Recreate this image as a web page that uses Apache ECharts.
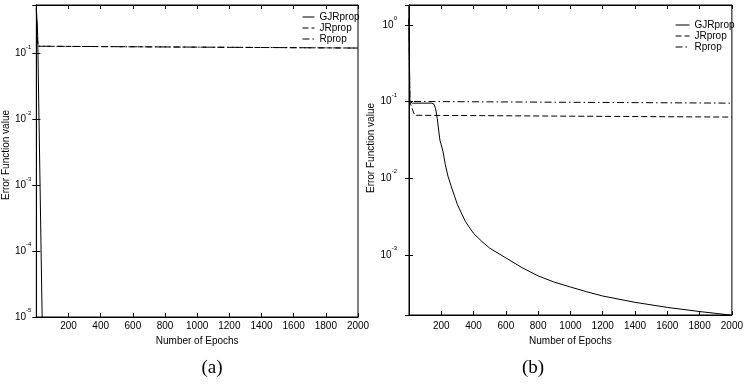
<!DOCTYPE html>
<html>
<head>
    <meta charset="utf-8">
    <title>Error function vs epochs</title>
    <script src="https://cdn.jsdelivr.net/npm/echarts@6/dist/echarts.min.js"></script>
    <style>
        body { margin: 0; background: #fff; }
        #chart { width: 746px; height: 384px; }
    </style>
</head>
<body>
    <div id="chart"></div>

    <script type="text/javascript">
        // ---- panel (a) ----
        var aGjrEpochs = [0, 3, 8, 36, 40];
        var aGjrValues = [0.5, 0.35, 0.2, 0.00001, 0.000004];
        var aJrEpochs = [0, 5, 10, 15, 2000];
        var aJrValues = [0.45, 0.2, 0.13, 0.122, 0.122];
        var aRpEpochs = [0, 4, 8, 12, 16, 2000];
        var aRpValues = [0.5, 0.25, 0.15, 0.13, 0.122, 0.122];

        // ---- panel (b) ----
        var bGjrEpochs = [0, 5, 20, 140, 155, 165, 175, 185, 192, 200, 211, 225, 242, 260, 300, 350, 400, 450, 500, 600, 700, 800, 900, 1000, 1100, 1200, 1400, 1600, 1800, 2000];
        var bGjrValues = [1.8, 0.1, 0.095, 0.095, 0.092, 0.08, 0.06, 0.04, 0.031, 0.027, 0.022, 0.015, 0.0105, 0.008, 0.0045, 0.0027, 0.0019, 0.0015, 0.00122, 0.00091, 0.00068, 0.00053, 0.00044, 0.00038, 0.00033, 0.00029, 0.00024, 0.000206, 0.000182, 0.000163];
        var bJrEpochs = [0, 5, 15, 25, 35, 45, 2000];
        var bJrValues = [1.2, 0.1, 0.085, 0.075, 0.066, 0.063, 0.0625];
        var bRpEpochs = [0, 5, 10, 2000];
        var bRpValues = [1.2, 0.1, 0.095, 0.095];

        var names = ['GJRprop', 'JRprop', 'Rprop'];

        function pairs(xs, ys) {
            var out = [];
            for (var i = 0; i < xs.length; i++) out.push([xs[i], ys[i]]);
            return out;
        }

        function powLabel(v) {
            var l = Math.log(v) / Math.LN10;
            var e = Math.round(l);
            if (Math.abs(l - e) > 1e-6) return '';
            return '{b|10}{s|' + e + '}';
        }

        var font = 'Liberation Sans';
        var lblRich = {
            b: { fontSize: 10, fontFamily: font, color: '#000' },
            s: { fontSize: 6, fontFamily: font, color: '#000', padding: [0, 0, 13, 0] }
        };

        function xAxisPair(grid, nameGap, margin) {
            return [{
                type: 'value', gridIndex: grid, min: 0, max: 2000, interval: 200,
                name: 'Number of Epochs', nameLocation: 'middle', nameGap: nameGap,
                nameTextStyle: { fontSize: 10, fontFamily: font, color: '#000' },
                axisLine: { lineStyle: { color: '#000', width: 1 } },
                axisTick: { inside: true, length: 4, lineStyle: { color: '#000' } },
                axisLabel: {
                    margin: margin, fontSize: 10, fontFamily: font, color: '#000',
                    formatter: function (v) { return v === 0 ? '' : String(v); }
                },
                splitLine: { show: false }
            }, {
                type: 'value', gridIndex: grid, position: 'top', min: 0, max: 2000, interval: 200,
                axisLine: { lineStyle: { color: '#000', width: 1 } },
                axisTick: { inside: true, length: 4, lineStyle: { color: '#000' } },
                axisLabel: { show: false },
                splitLine: { show: false }
            }];
        }

        function yAxisPair(grid, min, max, nameGap, margin, shift) {
            return [{
                type: 'log', logBase: 10, gridIndex: grid, min: min, max: max,
                name: 'Error Function value', nameLocation: 'middle', nameGap: nameGap,
                nameTextStyle: { fontSize: 10, fontFamily: font, color: '#000', padding: [0, 0, 0, shift] },
                axisLine: { lineStyle: { color: '#000', width: 1 } },
                axisTick: { inside: true, length: 4, lineStyle: { color: '#000' } },
                axisLabel: { margin: margin, formatter: powLabel, rich: lblRich },
                splitLine: { show: false }
            }, {
                type: 'log', logBase: 10, gridIndex: grid, position: 'right', min: min, max: max,
                axisLine: { lineStyle: { color: '#000', width: 1 } },
                axisTick: { inside: true, length: 4, lineStyle: { color: '#000' } },
                axisLabel: { show: false },
                splitLine: { show: false }
            }];
        }

        function lineSeries(name, xi, yi, data, dash) {
            return {
                name: name, type: 'line', xAxisIndex: xi, yAxisIndex: yi,
                data: data, symbol: 'none', animation: false,
                lineStyle: { color: '#000', width: 1, type: dash },
                itemStyle: { color: '#000' }
            };
        }

        var solid = 'solid', dashed = [6, 3], dashDot = [7, 3, 1.5, 3];

        function legendAt(left, top, iconW) {
            return {
                data: names, orient: 'vertical', left: left, top: top,
                itemWidth: iconW, itemHeight: 10, itemGap: 1, padding: 0,
                itemStyle: { opacity: 0 },
                lineStyle: { width: 1 },
                textStyle: { fontSize: 10, fontFamily: font, color: '#000' }
            };
        }

        var myChart = echarts.init(document.getElementById('chart'));
        var option = {
            backgroundColor: '#fff',
            animation: false,
            grid: [
                { left: 32, top: 5, width: 326, height: 312, show: true, borderColor: '#000', borderWidth: 1 },
                { left: 409, top: 5, width: 323, height: 310, show: true, borderColor: '#000', borderWidth: 1 }
            ],
            legend: [legendAt(302, 12, 12), legendAt(675, 20, 14)],
            xAxis: xAxisPair(0, 17, 4).concat(xAxisPair(1, 19, 6)),
            yAxis: yAxisPair(0, 0.00001, 0.55, 22, 5, 12).concat(yAxisPair(1, 0.000164, 1.81, 23, 12, 24)),
            series: [
                lineSeries('GJRprop', 0, 0, pairs(aGjrEpochs, aGjrValues), solid),
                lineSeries('JRprop', 0, 0, pairs(aJrEpochs, aJrValues), dashed),
                lineSeries('Rprop', 0, 0, pairs(aRpEpochs, aRpValues), dashDot),
                lineSeries('GJRprop', 2, 2, pairs(bGjrEpochs, bGjrValues), solid),
                lineSeries('JRprop', 2, 2, pairs(bJrEpochs, bJrValues), dashed),
                lineSeries('Rprop', 2, 2, pairs(bRpEpochs, bRpValues), dashDot)
            ],
            graphic: [
                { type: 'text', x: 212, y: 368, style: { text: '(a)', fontSize: 19, fontFamily: 'Liberation Serif', fill: '#000', align: 'center', verticalAlign: 'middle', textAlign: 'center', textVerticalAlign: 'middle' } },
                { type: 'text', x: 533, y: 368, style: { text: '(b)', fontSize: 19, fontFamily: 'Liberation Serif', fill: '#000', align: 'center', verticalAlign: 'middle', textAlign: 'center', textVerticalAlign: 'middle' } }
            ]
        };
        myChart.setOption(option);
    </script>
</body>
</html>
